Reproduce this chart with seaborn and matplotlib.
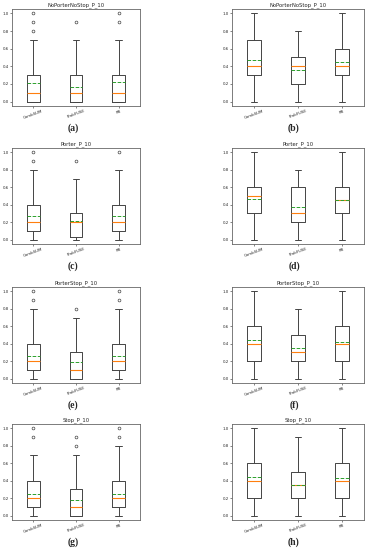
import matplotlib
matplotlib.use('Agg')
import matplotlib.pyplot as plt
import seaborn as sns

#%%
# box stats: whislo, q1, med, q3, whishi, mean, fliers

methods = ['CombSUM', 'ProbFUSE', 'RR']
panel_titles = ['NoPorterNoStop_P_10', 'NoPorterNoStop_P_10',
                'Porter_P_10', 'Porter_P_10',
                'PorterStop_P_10', 'PorterStop_P_10',
                'Stop_P_10', 'Stop_P_10']
panel_letters = ['(a)', '(b)', '(c)', '(d)', '(e)', '(f)', '(g)', '(h)']

whislo = [[0, 0, 0], [0, 0, 0], [0, 0, 0], [0, 0, 0],
          [0, 0, 0], [0, 0, 0], [0, 0, 0], [0, 0, 0]]
q1 = [[0, 0, 0], [0.3, 0.2, 0.3], [0.1, 0.025, 0.1], [0.3, 0.2, 0.3],
      [0.1, 0, 0.1], [0.2, 0.2, 0.2], [0.1, 0, 0.1], [0.2, 0.2, 0.2]]
med = [[0.1, 0.1, 0.1], [0.4, 0.4, 0.4], [0.2, 0.2, 0.2], [0.5, 0.3, 0.45],
       [0.2, 0.1, 0.2], [0.4, 0.3, 0.4], [0.2, 0.1, 0.2], [0.4, 0.35, 0.4]]
q3 = [[0.3, 0.3, 0.3], [0.7, 0.5, 0.6], [0.4, 0.3, 0.4], [0.6, 0.6, 0.6],
      [0.4, 0.3, 0.4], [0.6, 0.5, 0.6], [0.4, 0.3, 0.4], [0.6, 0.5, 0.6]]
whishi = [[0.7, 0.7, 0.7], [1.0, 0.8, 1.0], [0.8, 0.7, 0.8], [1.0, 0.8, 1.0],
          [0.8, 0.7, 0.8], [1.0, 0.8, 1.0], [0.7, 0.7, 0.8], [1.0, 0.9, 1.0]]
means = [[0.21, 0.17, 0.22], [0.47, 0.36, 0.45], [0.27, 0.21, 0.27], [0.465, 0.37, 0.45],
         [0.265, 0.195, 0.255], [0.44, 0.35, 0.42], [0.245, 0.18, 0.25], [0.44, 0.35, 0.43]]
fliers = [[[0.8, 0.9, 1.0], [0.9], [0.9, 1.0]],
          [[], [], []],
          [[0.9, 1.0], [0.9], [1.0]],
          [[], [], []],
          [[0.9, 1.0], [0.8], [0.9, 1.0]],
          [[], [], []],
          [[0.9, 1.0], [0.8, 0.9], [0.9, 1.0]],
          [[], [], []]]

#%%

sns.set_theme(style='white')
palette = sns.color_palette('tab10')
plt.rcParams['font.family'] = ['DejaVu Sans']

fig = plt.figure(figsize=(3.65, 5.5), dpi=100)
W, H = 365.0, 550.0

# pixel positions of the axes (left, right) per column and (top, bottom) per row
cols = [(12, 140), (232, 364)]
rows = [(9, 106), (148, 244), (287, 383), (424, 520)]
caption_y = [128, 266, 405, 542]
caption_x = [73, 294]

for i in range(8):
    r, c = divmod(i, 2)
    x0, x1 = cols[c]
    y0, y1 = rows[r]
    ax = fig.add_axes([x0 / W, 1 - y1 / H, (x1 - x0) / W, (y1 - y0) / H])

    stats = []
    for j, m in enumerate(methods):
        stats.append({'label': m, 'whislo': whislo[i][j], 'q1': q1[i][j], 'med': med[i][j],
                      'q3': q3[i][j], 'whishi': whishi[i][j], 'mean': means[i][j],
                      'fliers': fliers[i][j]})

    ax.bxp(stats, showmeans=True, meanline=True, widths=0.3,
           boxprops=dict(color='#444444', linewidth=0.7),
           whiskerprops=dict(color='#444444', linewidth=0.7),
           capprops=dict(color='#444444', linewidth=0.7),
           medianprops=dict(color=palette[1], linewidth=0.8),
           meanprops=dict(color=palette[2], linewidth=0.7, linestyle='--'),
           flierprops=dict(marker='o', markersize=2.0, markerfacecolor='none',
                           markeredgecolor='#444444', markeredgewidth=0.5))

    ax.set_title(panel_titles[i], fontsize=3.8, pad=2)
    ax.set_ylim(-0.05, 1.05)
    ax.set_yticks([0.0, 0.2, 0.4, 0.6, 0.8, 1.0])
    ax.set_yticklabels(['0.0', '0.2', '0.4', '0.6', '0.8', '1.0'])
    ax.tick_params(axis='both', labelsize=2.8, length=1.2, width=0.4, pad=1,
                   left=True, bottom=True)
    for lab in ax.get_xticklabels():
        lab.set_rotation(20)
    for s in ax.spines.values():
        s.set_linewidth(0.6)
        s.set_color('#666666')

    fig.text(caption_x[c] / W, 1 - caption_y[r] / H, panel_letters[i],
             ha='center', va='center', fontsize=7, fontweight='bold',
             family='Liberation Serif')

fig.savefig('out.png', dpi=100)
